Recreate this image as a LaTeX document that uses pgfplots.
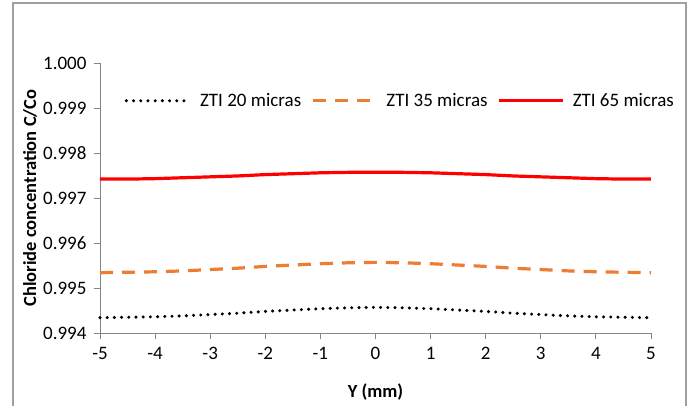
\documentclass[border=0pt]{standalone}
\usepackage{fontspec}
\setmainfont{Carlito}
\usepackage{pgfplots}
\pgfplotsset{compat=1.18}
\definecolor{axgray}{RGB}{134,134,134}
\definecolor{bordgray}{RGB}{160,160,160}
\definecolor{exorange}{RGB}{237,125,49}
\begin{document}
\begin{tikzpicture}
\path (-100pt,-73pt) rectangle (591pt,333pt);
\draw[bordgray, line width=1.2pt] (-87pt,-73pt) -- (-87pt,330pt) -- (586pt,330pt) -- (586pt,-73pt);
\begin{axis}[
  at={(0pt,0pt)}, anchor=south west,
  scale only axis, width=551pt, height=270pt,
  xmin=-5, xmax=5, ymin=0.994, ymax=1.000,
  xtick={-5,...,5},
  ytick={0.994,0.995,0.996,0.997,0.998,0.999,1.000},
  yticklabel style={/pgf/number format/fixed, /pgf/number format/fixed zerofill, /pgf/number format/precision=3, /tikz/xshift=-4pt},
  /pgf/number format/assume math mode=true,
  scaled y ticks=false,
  axis x line*=bottom, axis y line*=left,
  axis line style={axgray, line width=0.8pt, -},
  tick style={axgray, line width=0.8pt},
  tick align=outside, major tick length=6pt,
  ticklabel style={font=\fontsize{19}{22}\selectfont, text=black},
  xticklabel style={yshift=-5pt},
  xlabel={\textbf{Y (mm)}},
  ylabel={\textbf{Chloride concentration C/Co}},
  label style={font=\fontsize{18.5}{21}\selectfont},
  xlabel style={at={(axis description cs:0.5,0)}, anchor=center, yshift=-59pt},
  ylabel style={at={(axis description cs:0,0.5)}, anchor=center, yshift=70pt},
  clip=false,
  legend columns=3,
  legend style={draw=none, fill=none, at={(axis description cs:0.545,0.86)}, anchor=center,
    font=\fontsize{19}{22}\selectfont,
    /tikz/every even column/.append style={column sep=8pt}},
  legend image code/.code={\draw[#1] (0pt,0pt) -- (64pt,0pt); \path (70pt,0pt);},
]
\addplot[black, line width=3.4pt, line cap=round, dash pattern=on 0pt off 7.2pt] coordinates {
(-5,0.99434) (-4.5,0.99435) (-4,0.99436) (-3.5,0.99438) (-3,0.99441) (-2.5,0.99444) (-2,0.99448) (-1.5,0.99451) (-1,0.99454) (-0.5,0.99456) (0,0.99457)
(0.5,0.99456) (1,0.99454) (1.5,0.99451) (2,0.99448) (2.5,0.99444) (3,0.99441) (3.5,0.99438) (4,0.99436) (4.5,0.99435) (5,0.99434)};
\addlegendentry{ZTI 20 micras}
\addplot[exorange, line width=3.2pt, dash pattern=on 13pt off 9pt] coordinates {
(-5,0.99534) (-4.5,0.99535) (-4,0.99536) (-3.5,0.99538) (-3,0.99541) (-2.5,0.99544) (-2,0.99548) (-1.5,0.99551) (-1,0.99554) (-0.5,0.99556) (0,0.99557)
(0.5,0.99556) (1,0.99554) (1.5,0.99551) (2,0.99548) (2.5,0.99544) (3,0.99541) (3.5,0.99538) (4,0.99536) (4.5,0.99535) (5,0.99534)};
\addlegendentry{ZTI 35 micras}
\addplot[red, line width=3.2pt] coordinates {
(-5,0.99742) (-4.5,0.99742) (-4,0.99743) (-3.5,0.99745) (-3,0.99747) (-2.5,0.99749) (-2,0.99752) (-1.5,0.99754) (-1,0.99756) (-0.5,0.99757) (0,0.99757)
(0.5,0.99757) (1,0.99756) (1.5,0.99754) (2,0.99752) (2.5,0.99749) (3,0.99747) (3.5,0.99745) (4,0.99743) (4.5,0.99742) (5,0.99742)};
\addlegendentry{ZTI 65 micras}
\end{axis}
\end{tikzpicture}
\end{document}
